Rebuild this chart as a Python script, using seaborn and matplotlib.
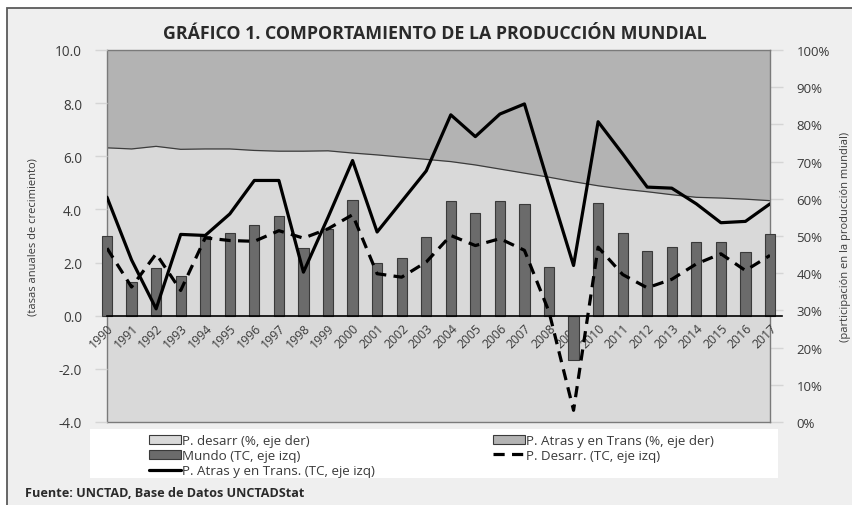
import numpy as np
import pandas as pd
import matplotlib.pyplot as plt
import matplotlib.patches as mpatches
from matplotlib.lines import Line2D
import seaborn as sns

years = list(range(1990, 2018))
# crecimiento anual (%), eje izquierdo
mundo = [3.0, 1.27, 1.79, 1.49, 3.0, 3.1, 3.42, 3.75, 2.56, 3.27, 4.34, 1.99, 2.18, 2.98,
         4.31, 3.88, 4.31, 4.21, 1.82, -1.68, 4.25, 3.12, 2.43, 2.59, 2.79, 2.79, 2.39, 3.06]
p_desarr_tc = [2.54, 1.08, 2.33, 0.95, 2.93, 2.83, 2.8, 3.2, 2.92, 3.27, 3.8, 1.58, 1.45, 2.02,
               3.02, 2.64, 2.9, 2.46, 0.15, -3.56, 2.58, 1.55, 1.05, 1.37, 1.95, 2.33, 1.7, 2.27]
p_atras_tc = [4.46, 2.1, 0.26, 3.06, 3.02, 3.83, 5.09, 5.09, 1.64, 3.7, 5.84, 3.15, 4.3, 5.45,
              7.56, 6.74, 7.59, 7.97, 4.9, 1.89, 7.3, 6.09, 4.84, 4.8, 4.21, 3.5, 3.55, 4.21]
# participacion en la produccion mundial (%), eje derecho
p_desarr_pct = [73.7, 73.4, 74.1, 73.3, 73.4, 73.4, 73.0, 72.8, 72.8, 72.9, 72.3, 71.8, 71.2, 70.6,
                70.0, 69.1, 68.0, 66.9, 65.8, 64.6, 63.5, 62.6, 61.9, 61.1, 60.4, 60.2, 59.9, 59.5]

df = pd.DataFrame({
    "pos": np.arange(len(years)),
    "mundo": mundo,
    "p_desarr_tc": p_desarr_tc,
    "p_atras_tc": p_atras_tc,
    "p_desarr_pct": p_desarr_pct,
})

sns.set_style("white")
plt.rcParams['font.family'] = ['Open Sans', 'DejaVu Sans']

c_light = '#d9d9d9'
c_dark = '#b3b3b3'
c_bar = '#6b6b6b'
txt = '#3a3a3a'

fig = plt.figure(figsize=(8.52, 5.06), dpi=100)
fig.patch.set_facecolor('white')
fig.patches.append(mpatches.Rectangle((7/852, -0.01), 1.0, 1.01 - 9/506, transform=fig.transFigure,
                                      facecolor='#efefef', edgecolor='#5a5a5a', lw=1.3, zorder=-10))
fig.patches.append(mpatches.Rectangle((90/852, 1 - 479/506), 688/852, 49/506, transform=fig.transFigure,
                                      facecolor='white', edgecolor='none', zorder=-5))

ax = fig.add_axes([107/852, 1 - 423/506, 663/852, 372/506])
ax2 = ax.twinx()
ax.set_zorder(ax2.get_zorder() + 1)
ax.patch.set_visible(False)

# areas (eje derecho)
pos = df["pos"].values
ax2.fill_between(pos, 0, df["p_desarr_pct"], color=c_light, lw=0)
ax2.fill_between(pos, df["p_desarr_pct"], 100, color=c_dark, lw=0)
sns.lineplot(data=df, x="pos", y="p_desarr_pct", ax=ax2, color='#3c3c3c', lw=0.9)
ax2.set_ylim(0, 100)

# barras y lineas (eje izquierdo)
sns.barplot(data=df, x="pos", y="mundo", ax=ax, native_scale=True, width=0.42,
            color=c_bar, saturation=1, edgecolor='#3a3a3a', linewidth=0.8)
for p in ax.patches:
    p.set_clip_on(False)
sns.lineplot(data=df, x="pos", y="p_atras_tc", ax=ax, color='black', lw=2.3)
sns.lineplot(data=df, x="pos", y="p_desarr_tc", ax=ax, color='black', lw=2.3,
             linestyle=(0, (3.5, 2.3)))

ax.set_xlim(0, len(years) - 1)
ax.set_ylim(-4, 10)

for s in ['left', 'right', 'top']:
    ax.spines[s].set_visible(False)
ax.spines['bottom'].set_position(('data', 0))
ax.spines['bottom'].set_color('black')
ax.spines['bottom'].set_linewidth(1.2)
ax.spines['bottom'].set_bounds(0, len(years) - 0.5)
for s in ax2.spines.values():
    s.set_visible(True)
    s.set_color('#7a7a7a')
    s.set_linewidth(1.0)

ax.set_xticks(pos)
ax.set_xticklabels([str(y) for y in years], rotation=45, ha='right', va='top',
                   rotation_mode='anchor', fontsize=8.8, color=txt)
ax.tick_params(axis='x', length=0, pad=4)

ax.set_yticks(range(-4, 11, 2))
ax.set_yticklabels([f"{v:.1f}" for v in range(-4, 11, 2)], fontsize=9.8, color=txt)
ax.tick_params(axis='y', left=True, length=9, width=1, color='#d5d5d5', pad=9)
ax2.set_yticks(range(0, 101, 10))
ax2.set_yticklabels([f"{v}%" for v in range(0, 101, 10)], fontsize=9.5, color=txt)
ax2.tick_params(axis='y', right=True, length=9, width=1, color='#d5d5d5', pad=10)

ax.set_xlabel("")
ax.set_ylabel("(tasas anuales de crecimiento)", fontsize=8, color=txt)
ax.yaxis.set_label_coords(-0.104, 0.5)
ax2.set_xlabel("")
ax2.set_ylabel("(participación en la producción mundial)", fontsize=8, color=txt, rotation=90)
ax2.yaxis.set_label_coords(1.105, 0.5)

fig.text(435/852, 1 - 34/506, "GRÁFICO 1. COMPORTAMIENTO DE LA PRODUCCIÓN MUNDIAL",
         ha='center', va='center', fontsize=12.8, fontweight='bold', color='#2a2a2a')
fig.text(25/852, 1 - 494/506, "Fuente: UNCTAD, Base de Datos UNCTADStat",
         ha='left', va='center', fontsize=9.1, fontweight='bold', color='#2a2a2a')

handles = [
    mpatches.Patch(facecolor=c_light, edgecolor='#3a3a3a', lw=0.8),
    mpatches.Patch(facecolor=c_bar, edgecolor='#3a3a3a', lw=0.8),
    Line2D([], [], color='black', lw=2.3),
    mpatches.Patch(facecolor=c_dark, edgecolor='#3a3a3a', lw=0.8),
    Line2D([], [], color='black', lw=2.3, linestyle=(0, (3.5, 2.3))),
]
labels = [
    "P. desarr (%, eje der)",
    "Mundo (TC, eje izq)",
    "P. Atras y en Trans. (TC, eje izq)",
    "P. Atras y en Trans (%, eje der)",
    "P. Desarr. (TC, eje izq)",
]
fig.legend(handles, labels, ncol=2, loc='upper left', bbox_to_anchor=(149/852, 1 - 435/506),
           frameon=False, fontsize=9.6, handlelength=2.4, handletextpad=0.1,
           columnspacing=8.8, labelspacing=0.16, borderpad=0, borderaxespad=0,
           labelcolor=txt)

plt.savefig("out.png", dpi=100)
plt.close()
